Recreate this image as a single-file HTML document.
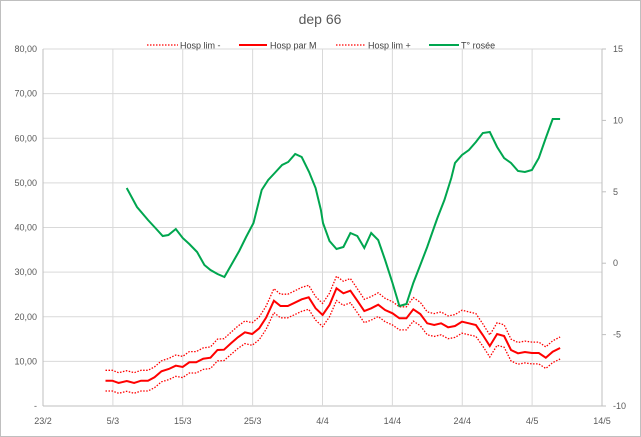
<!DOCTYPE html>
<html><head><meta charset="utf-8"><style>
body{margin:0;background:#fff;}
svg{display:block;font-family:"Liberation Sans",sans-serif;}
</style></head><body>
<svg id="s" width="641" height="437" viewBox="0 0 641 437" xmlns="http://www.w3.org/2000/svg">
<rect x="0.5" y="0.5" width="640" height="436" fill="#fff" stroke="#bfbfbf"/>
<text x="320" y="24" font-size="14" fill="#595959" text-anchor="middle">dep  66</text>
<g id="grid" stroke="#d9d9d9" stroke-width="1"></g>
<g id="lab" font-size="9" fill="#595959"></g>
<g id="series" fill="none"></g>
<g font-size="9" fill="#404040">
<line x1="147" y1="45" x2="178" y2="45" stroke="#ff0000" stroke-width="1.2" stroke-dasharray="1.5,1.5"/>
<text x="180" y="48.5">Hosp lim -</text>
<line x1="239" y1="45" x2="267" y2="45" stroke="#ff0000" stroke-width="2"/>
<text x="270" y="48.5">Hosp par M</text>
<line x1="336" y1="45" x2="365" y2="45" stroke="#ff0000" stroke-width="1.2" stroke-dasharray="1.5,1.5"/>
<text x="368" y="48.5">Hosp lim +</text>
<line x1="429" y1="45" x2="459" y2="45" stroke="#00a64f" stroke-width="2"/>
<text x="461" y="48.5">T° rosée</text>
</g>
</svg>
<script>
const NS="http://www.w3.org/2000/svg";
function el(p,t,a,txt){const e=document.createElementNS(NS,t);for(const k in a)e.setAttribute(k,a[k]);if(txt!=null)e.textContent=txt;document.getElementById(p).appendChild(e);return e;}
const X0=43,X1=602,Y0=406,Y1=49;
for(let v=0;v<=80;v+=10){const y=Y0-(Y0-Y1)*v/80;
 if(v>0)el("grid","line",{x1:X0,x2:X1,y1:y,y2:y});
 el("lab","text",{x:37,y:y+3,"text-anchor":"end"},v==0?"-":v.toFixed(2).replace(".",","));}
el("grid","line",{x1:X0,x2:X1,y1:Y0,y2:Y0,stroke:"#bfbfbf"});
const xl=["23/2","5/3","15/3","25/3","4/4","14/4","24/4","4/5","14/5"];
for(let i=0;i<9;i++){const x=X0+(X1-X0)*i/8;
 el("grid","line",{x1:x,x2:x,y1:Y1,y2:Y0,stroke:(i==0||i==8)?"#bfbfbf":"#d9d9d9"});
 el("lab","text",{x:x,y:424,"text-anchor":"middle"},xl[i]);}
for(let v=15;v>=-10;v-=5){const y=Y1+(Y0-Y1)*(15-v)/25;
 el("grid","line",{x1:X1,x2:X1+4,y1:y,y2:y,stroke:"#bfbfbf"});
 el("lab","text",{x:613,y:y+3},String(v));}
const r=[[258,482],[275,482],[290,489],[310,483],[328,489],[345,482],[362,482],[378,472],[395,454],[413,447],[430,437],[447,441],[463,427],[480,427],[497,416],[515,413],[532,390],[548,389],[565,370],[582,352],[599,337],[617,342],[634,325],[651,293],[670,242],[686,258],[704,258],[721,248],[738,238],[755,232],[772,265],[789,285],[806,255],[823,205],[840,220],[857,212],[874,242],[891,273],[908,265],[925,254],[942,270],[960,280],[977,295],[994,295],[1011,268],[1028,282],[1045,310],[1062,315],[1079,310],[1096,322],[1113,318],[1130,305],[1147,310],[1164,315],[1181,345],[1198,378],[1216,342],[1233,348],[1250,390],[1267,400],[1284,396],[1301,399],[1318,399],[1335,413],[1352,395],[1370,384]];
const K=4.4625;
function pts(f){return r.map(p=>{const x=p[0]/2.446,y=p[1]/3+220;const v=(Y0-y)/K;return x.toFixed(1)+","+(Y0-f(v)*K).toFixed(1);}).join(" ");}
el("series","polyline",{points:pts(v=>v+2.2+v*0.02),stroke:"#ff0000","stroke-width":1.3,"stroke-dasharray":"1.5,1.5"});
el("series","polyline",{points:pts(v=>v-2.2-v*0.02),stroke:"#ff0000","stroke-width":1.3,"stroke-dasharray":"1.5,1.5"});
el("series","polyline",{points:pts(v=>v),stroke:"#ff0000","stroke-width":2});
const g=[[310,188],[335,207],[362,220],[380,228],[398,236],[412,235],[430,229],[447,238],[463,244],[482,252],[500,265],[515,270],[532,274],[549,277],[567,264],[585,251],[602,237],[620,223],[640,190],[656,180],[672,173],[690,165],[705,162],[722,154],[738,157],[756,172],[772,188],[785,210],[790,223],[806,241],[823,249],[840,247],[857,233],[874,236],[891,248],[908,233],[925,240],[942,260],[960,283],[977,306],[994,304],[1011,283],[1028,265],[1045,247],[1062,227],[1070,218],[1087,200],[1104,178],[1113,163],[1130,155],[1147,150],[1164,142],[1181,133],[1198,132],[1216,147],[1233,158],[1250,163],[1267,171],[1284,172],[1301,170],[1318,158],[1335,138],[1352,119],[1370,119]];
el("series","polyline",{points:g.map(p=>(p[0]/2.446).toFixed(1)+","+p[1]).join(" "),stroke:"#00a64f","stroke-width":2});
</script>
</body></html>
